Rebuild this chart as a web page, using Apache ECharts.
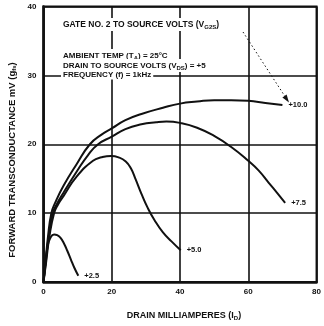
<!DOCTYPE html>
<html>
<head>
<meta charset="utf-8">
<script src="https://cdn.jsdelivr.net/npm/echarts@6/dist/echarts.min.js"></script>
<style>
  html, body { margin: 0; padding: 0; background: #fff; }
  #chart { width: 324px; height: 326px; }
</style>
</head>
<body>
<div id="chart"></div>
<script>
// drain current (mA) vs forward transconductance, one curve per gate-2 voltage
var gateVolts = ["+10.0", "+7.5", "+5.0", "+2.5"];

var curve100 = [
  [0, 0], [0.6, 3], [1.3, 6.5], [2.3, 10], [3.5, 11.6], [5.9, 14.0], [9.7, 17.1],
  [13.6, 20.0], [17, 21.4], [20, 22.3], [24, 23.5], [28.7, 24.4], [35, 25.3], [40, 25.9],
  [45, 26.2], [50, 26.4], [55, 26.4], [60, 26.3], [65, 26.0], [70, 25.7]
];
var curve75 = [
  [0, 0], [0.7, 3], [1.5, 6.5], [2.7, 10], [4, 11.4], [5.9, 13.0], [9.7, 16.0], [13, 18.4],
  [16, 20.0], [20, 21.1], [24, 22.2], [28.7, 22.9], [33, 23.2], [36, 23.3], [40, 23.1],
  [45, 22.4], [50, 21.2], [55, 19.6], [60, 17.6], [63, 16.2], [66, 14.4], [68.5, 12.9],
  [70.8, 11.5]
];
var curve50 = [
  [0, 0], [0.8, 3], [1.7, 6.5], [3.1, 10], [4.3, 11.3], [5.9, 12.5], [9.7, 15.3],
  [14.5, 17.6], [17, 18.1], [19.8, 18.3], [22, 18.1], [24.1, 17.5], [25.6, 16.5],
  [27, 14.9], [28.7, 12.8], [30.5, 10.8], [32.5, 9.0], [35, 7.2], [37.5, 5.9], [40.2, 4.6]
];
var curve25 = [
  [0, 0], [0.5, 2.5], [1.2, 5.2], [2, 6.4], [3.1, 6.9], [4, 6.8], [5, 6.4], [6, 5.6],
  [7, 4.5], [8, 3.3], [9, 2.1], [10.2, 0.9]
];
var curves = [curve100, curve75, curve50, curve25];

var xTicks = [0, 20, 40, 60, 80];
var yTicks = [0, 10, 20, 30, 40];

var FONT = "Liberation Sans";
var INK = "#111";

var chart = echarts.init(document.getElementById("chart"), null, { renderer: "canvas" });

var series = curves.map(function (data, i) {
  return {
    name: gateVolts[i],
    type: "line",
    data: data,
    smooth: 0.5,
    symbol: "none",
    lineStyle: { color: INK, width: 2 },
    endLabel: {
      show: true,
      formatter: gateVolts[i],
      distance: 6,
      color: INK,
      fontFamily: FONT,
      fontWeight: "bold",
      fontSize: 7.5
    },
    silent: true,
    z: 3
  };
});

var subRich = {
  s: { fontSize: 6, fontFamily: FONT, fontWeight: "bold", fill: INK, padding: [5, 0, 0, 0] }
};

function note(x, y, text, size) {
  return {
    type: "text",
    left: x,
    top: y,
    z: 10,
    style: {
      text: text,
      fill: INK,
      font: "bold " + size + "px " + FONT,
      backgroundColor: "#fff",
      padding: [1, 2, 1, 2],
      rich: subRich
    }
  };
}

var option = {
  animation: false,
  grid: { left: 43.5, top: 6.5, width: 282, height: 281, show: true, borderColor: INK, borderWidth: 2 },
  xAxis: {
    type: "value",
    min: xTicks[0],
    max: xTicks[xTicks.length - 1],
    interval: 20,
    name: "DRAIN MILLIAMPERES (I{s|D})",
    nameLocation: "middle",
    nameGap: 28,
    nameTextStyle: { color: INK, fontFamily: FONT, fontWeight: "bold", fontSize: 9, rich: subRich, padding: [0, 0, 0, 8] },
    axisLine: { show: true, onZero: false, lineStyle: { color: INK, width: 2.5 } },
    axisTick: { show: false },
    splitLine: { show: true, lineStyle: { color: INK, width: 1.6 } },
    axisLabel: { color: INK, fontFamily: FONT, fontWeight: "bold", fontSize: 8, margin: 6 }
  },
  yAxis: {
    type: "value",
    min: yTicks[0],
    max: yTicks[yTicks.length - 1],
    interval: 10,
    axisLine: { show: true, onZero: false, lineStyle: { color: INK, width: 2.5 } },
    axisTick: { show: false },
    splitLine: { show: true, lineStyle: { color: INK, width: 1.6 } },
    axisLabel: { color: INK, fontFamily: FONT, fontWeight: "bold", fontSize: 8, margin: 7 }
  },
  series: series,
  graphic: [
    note(61, 18, "GATE NO. 2 TO SOURCE VOLTS (V{s|G2S})", 8.5),
    note(61, 49, "AMBIENT TEMP (T{s|A}) = 25°C", 8),
    note(61, 59, "DRAIN TO SOURCE VOLTS (V{s|DS}) = +5", 8),
    note(61, 69.5, "FREQUENCY (f) = 1kHz", 8),
    {
      type: "line",
      z: 10,
      shape: { x1: 243, y1: 32, x2: 286, y2: 98 },
      style: { stroke: INK, lineWidth: 1, lineDash: [1.5, 2.5] }
    },
    {
      type: "polygon",
      z: 10,
      shape: { points: [[289, 102.5], [286.6, 94.6], [282.4, 97.4]] },
      style: { fill: INK }
    },
    {
      type: "text",
      x: 12,
      y: 160,
      rotation: Math.PI / 2,
      z: 10,
      style: {
        text: "FORWARD TRANSCONDUCTANCE mV (g{s|fs})",
        fill: INK,
        font: "bold 9.5px " + FONT,
        align: "center",
        verticalAlign: "middle",
        rich: subRich
      }
    }
  ]
};

chart.setOption(option);
</script>
</body>
</html>
